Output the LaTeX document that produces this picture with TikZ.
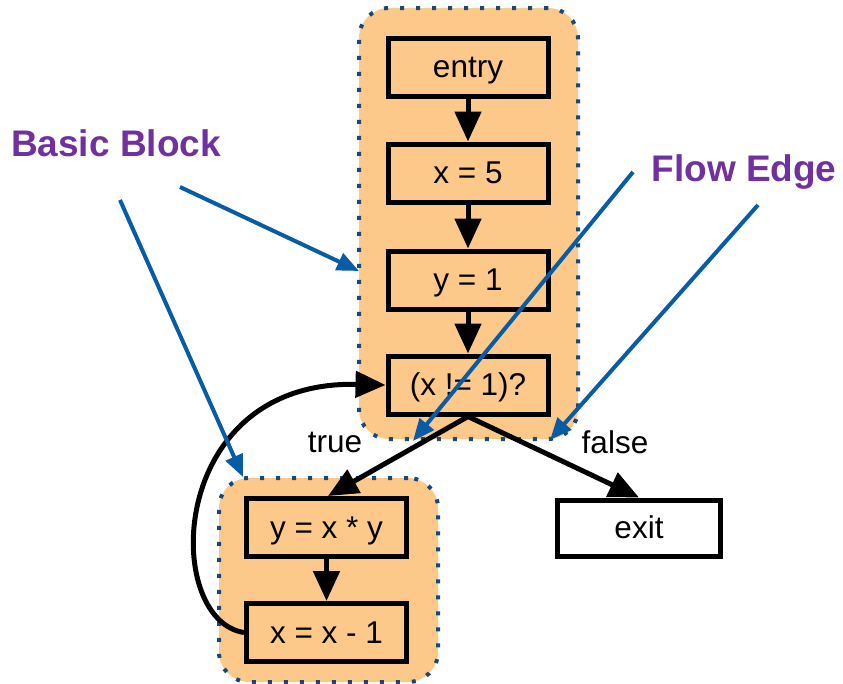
\documentclass[tikz,border=0pt]{standalone}
\usepackage{fontspec}
\setmainfont{Liberation Sans}
\usetikzlibrary{arrows.meta}
\definecolor{blockfill}{RGB}{253,201,138}
\definecolor{dotblue}{RGB}{24,72,120}
\definecolor{notepurple}{RGB}{112,48,160}
\definecolor{noteblue}{RGB}{8,92,166}
\tikzset{
  stmt/.style={draw=black, line width=5pt, fill=blockfill, minimum width=160pt,
    minimum height=58pt, inner sep=0pt, text height=24pt, text depth=3pt,
    font=\fontsize{31.5}{36}\selectfont},
  exitbox/.style={stmt, fill=white, minimum width=163pt, minimum height=56pt},
  bb/.style={draw=dotblue, line width=4pt, line cap=butt, dash pattern=on 4pt off 12pt,
    fill=blockfill, rounded corners=30pt, inner sep=0pt},
  flow/.style={black, line width=5pt, -{Triangle[length=30pt,width=26pt]}},
  note/.style={noteblue, line width=4pt, -{Triangle[length=22pt,width=18pt]}},
  notetext/.style={text=notepurple, font=\fontsize{37}{41}\selectfont\bfseries},
  edgelabel/.style={font=\fontsize{31.5}{36}\selectfont},
}
\begin{document}
\begin{tikzpicture}[x=1pt,y=-1pt]
\useasboundingbox (0,0) rectangle (843,683);
% basic block backgrounds
\node[bb, minimum width=219pt, minimum height=431pt] (upper) at (468.5,223.5) {};
\node[bb, minimum width=219pt, minimum height=204pt] (lower) at (328.5,580) {};
% statements
\node[stmt] (entry) at (468,67) {entry};
\node[stmt] (x5) at (468,173) {x = 5};
\node[stmt] (y1) at (468,280) {y = 1};
\node[stmt] (cond) at (468,385) {(x != 1)?};
\node[stmt] (yxy) at (326.5,527.5) {y = x * y};
\node[stmt] (xx1) at (326.5,632.5) {x = x - 1};
\node[exitbox] (exit) at (639,528) {exit};
% control flow
\draw[flow] (entry) -- (x5);
\draw[flow] (x5) -- (y1);
\draw[flow] (y1) -- (cond);
\draw[flow] (yxy) -- (xx1);
\draw[flow] (cond.south) -- (yxy.north -| 328,0);
\draw[flow] (cond.south) -- (exit.north);
\draw[flow] (xx1.west) .. controls (162,620) and (166,380) .. (cond.west);
\node[edgelabel] (tlab) at (335,442) {true};
\node[edgelabel] (flab) at (615,442) {false};
% annotations
\node[notetext] (bbtext) at (116,143) {Basic Block};
\node[notetext] (fetext) at (744,172) {Flow Edge};
\coordinate (bbA) at (180,187);
\coordinate (bbB) at (120,200);
\coordinate (feA) at (633,172);
\coordinate (feB) at (758,205);
\coordinate (tipA) at (359,271);
\coordinate (tipB) at (243,477);
\coordinate (tipC) at (413,441);
\coordinate (tipD) at (550,440);
\draw[note] (bbA) -- (tipA);
\draw[note] (bbB) -- (tipB);
\draw[note] (feA) -- (tipC);
\draw[note] (feB) -- (tipD);
\end{tikzpicture}
\end{document}
